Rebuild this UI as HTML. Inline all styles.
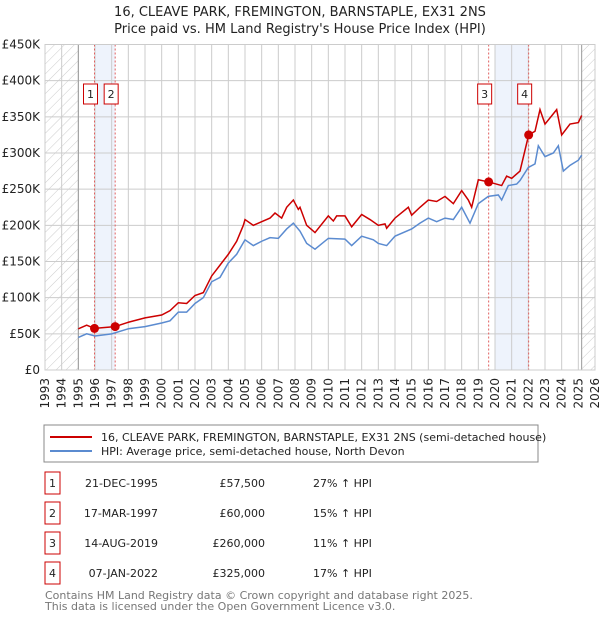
<!DOCTYPE html>
<html><head><meta charset="utf-8"><style>
body{margin:0;background:#fff;font-family:"DejaVu Sans","Liberation Sans",sans-serif;}
#wrap{position:relative;width:600px;height:620px;overflow:hidden;}
svg text{font-family:"DejaVu Sans","Liberation Sans",sans-serif;}
</style></head><body><div id="wrap">
<svg id="chart" width="600" height="620">
<defs><pattern id="hatch" width="7" height="7" patternUnits="userSpaceOnUse" patternTransform="rotate(45)"><line x1="0" y1="0" x2="0" y2="7" stroke="#ccc" stroke-width="1"/></pattern></defs>
<text x="300" y="16" text-anchor="middle" font-size="13" fill="#222">16, CLEAVE PARK, FREMINGTON, BARNSTAPLE, EX31 2NS</text>
<text x="300" y="33" text-anchor="middle" font-size="13" fill="#222">Price paid vs. HM Land Registry's House Price Index (HPI)</text>
<g id="plot"></g>
<rect x="44" y="425" width="494" height="37" fill="#fff" stroke="#888"/>
<line x1="50" y1="437" x2="92" y2="437" stroke="#cc0000" stroke-width="2"/>
<text x="101" y="441" font-size="11" fill="#222">16, CLEAVE PARK, FREMINGTON, BARNSTAPLE, EX31 2NS (semi-detached house)</text>
<line x1="50" y1="451" x2="92" y2="451" stroke="#5b8bd0" stroke-width="2"/>
<text x="101" y="455" font-size="11" fill="#222">HPI: Average price, semi-detached house, North Devon</text>
<g id="table" font-size="11" fill="#222"></g>
<text x="45" y="599" font-size="11" fill="#777">Contains HM Land Registry data © Crown copyright and database right 2025.</text>
<text x="45" y="610" font-size="11" fill="#777">This data is licensed under the Open Government Licence v3.0.</text>
</svg></div>
<script>
const hpiYears=[1995,1995.5,1996,1997,1998,1999,2000,2000.5,2001,2001.5,2002,2002.5,2003,2003.5,2004,2004.5,2005,2005.5,2006,2006.5,2007,2007.5,2007.9,2008.3,2008.7,2009.2,2010,2011,2011.4,2012,2012.7,2013,2013.5,2014,2015,2015.5,2016,2016.5,2017,2017.5,2018,2018.5,2019,2019.6,2020.2,2020.4,2020.8,2021.3,2021.5,2022,2022.4,2022.6,2023,2023.5,2023.8,2024.1,2024.5,2025,2025.2];
const hpiValues=[45,50,47,50,57,60,65,68,80,80,92,100,122,128,148,160,180,172,178,183,182,195,203,192,175,167,182,181,172,185,180,175,172,185,195,203,210,205,210,208,225,203,230,240,242,235,255,257,262,280,285,310,295,300,310,275,283,290,297];
const redYears=[1995,1995.5,1995.97,1997.2,1998,1999,2000,2000.5,2001,2001.5,2002,2002.5,2003,2003.5,2004,2004.5,2004.9,2005,2005.5,2006,2006.5,2006.8,2007.2,2007.5,2007.9,2008.2,2008.3,2008.7,2009.2,2010,2010.3,2010.5,2011,2011.4,2012,2012.5,2013,2013.4,2013.5,2014,2014.8,2015,2015.5,2016,2016.5,2017,2017.5,2018,2018.4,2018.6,2019,2019.62,2020.4,2020.7,2021,2021.5,2022.02,2022.4,2022.7,2023,2023.7,2024,2024.5,2025,2025.2];
const redValues=[57,62,57.5,60,66,72,76,82,93,92,103,107,130,145,160,178,200,208,200,205,210,217,210,225,235,222,225,200,190,213,206,213,213,198,215,208,200,202,196,210,225,214,225,235,233,240,230,248,235,225,263,260,255,268,265,275,325,330,360,340,360,325,340,342,352];
const saleYears=[1995.97,1997.21,2019.62,2022.02];
const saleValues=[57.5,60,260,325];
const saleLabels=["1","2","3","4"];
const saleDates=["21-DEC-1995","17-MAR-1997","14-AUG-2019","07-JAN-2022"];
const salePrices=["£57,500","£60,000","£260,000","£325,000"];
const saleDiffs=["27% ↑ HPI","15% ↑ HPI","11% ↑ HPI","17% ↑ HPI"];
const yTicks=[0,50,100,150,200,250,300,350,400,450];
const yTickLabels=["£0","£50K","£100K","£150K","£200K","£250K","£300K","£350K","£400K","£450K"];
const xTicks=[];for(let y=1993;y<=2026;y++)xTicks.push(y);

const NS="http://www.w3.org/2000/svg";
const X0=45,X1=595,Y0=370,Y1=44.5;
const xs=y=>X0+(y-1993)/(2026-1993)*(X1-X0);
const ys=v=>Y0-v/450*(Y0-Y1);
const plot=document.getElementById('plot');
function mk(tag,attrs,parent){const e=document.createElementNS(NS,tag);for(const k in attrs)e.setAttribute(k,attrs[k]);(parent||plot).appendChild(e);return e;}
// shading
let e;
e=mk('rect',{x:xs(1996),y:Y1,width:xs(saleYears[1])-xs(1996),height:Y0-Y1,fill:'#eef3fc'});


e=mk('rect',{x:xs(2020),y:Y1,width:xs(saleYears[3])-xs(2020),height:Y0-Y1,fill:'#eef3fc'});


e=mk('rect',{x:X0,y:Y1,width:xs(1995)-X0,height:Y0-Y1,fill:'url(#hatch)'});


e=mk('rect',{x:xs(2025.2),y:Y1,width:X1-xs(2025.2),height:Y0-Y1,fill:'url(#hatch)'});


// grid
xTicks.forEach((t,i)=>{
 e=mk('line',{x1:xs(t),x2:xs(t),y1:Y1,y2:Y0,stroke:'#ccc','stroke-width':1});
 
 
 e=mk('text',{x:0,y:0,transform:`translate(${xs(t)+4},378) rotate(-90)`,'text-anchor':'end','font-size':12,fill:'#222'});
 e.textContent=t;
 
 
});
yTicks.forEach((t,i)=>{
 e=mk('line',{x1:X0,x2:X1,y1:ys(t),y2:ys(t),stroke:'#ccc','stroke-width':1});
 
 
 e=mk('text',{x:40,y:ys(t)+4,'text-anchor':'end','font-size':12,fill:'#222'});
 e.textContent=yTickLabels[i];
 
 
});
e=mk('line',{x1:xs(1995),x2:xs(1995),y1:Y1,y2:Y0,stroke:'#999'});


e=mk('line',{x1:xs(2025.2),x2:xs(2025.2),y1:Y1,y2:Y0,stroke:'#999'});


// sale vlines & labels
saleYears.forEach((s,i)=>{
 e=mk('line',{x1:xs(s),x2:xs(s),y1:Y1,y2:Y0,stroke:'#e06060','stroke-dasharray':'2,2'});
 
 
 const bx=xs(s)-(i%2==0?14:-2)+ (i==0||i==2?0:0);
 const cx=(i==0||i==2)?xs(s)-4:xs(s)-4;
 e=mk('rect',{x:cx-7,y:84,width:14,height:20,fill:'#fff',stroke:'#cc0000'});
 
 
 e=mk('text',{x:cx,y:98,'text-anchor':'middle','font-size':11,fill:'#222'});
 e.textContent=saleLabels[i];
 
 
});
e=mk('rect',{x:X0,y:Y1,width:X1-X0,height:Y0-Y1,fill:'none',stroke:'#ccc'});


// lines
e=mk('polyline',{points:hpiYears.map((y,i)=>xs(y)+','+ys(hpiValues[i])).join(' '),fill:'none',stroke:'#5b8bd0','stroke-width':1.5});


e=mk('polyline',{points:redYears.map((y,i)=>xs(y)+','+ys(redValues[i])).join(' '),fill:'none',stroke:'#cc0000','stroke-width':1.5});


saleYears.forEach((s,i)=>{
 e=mk('circle',{cx:xs(s),cy:ys(saleValues[i]),r:4.5,fill:'#cc0000'});
 
 
});
// table
const tb=document.getElementById('table');
const rowY=[483,513,543,573];
saleLabels.forEach((l,i)=>{
 const y=rowY[i];
 e=mk('rect',{x:45,y:y-11,width:15,height:22,fill:'#fff',stroke:'#cc0000'},tb);
 
 
 e=mk('text',{x:52.5,y:y+4,'text-anchor':'middle'},tb);e.textContent=l;
 
 
 e=mk('text',{x:158,y:y+4,'text-anchor':'end'},tb);e.textContent=saleDates[i];
 
 
 e=mk('text',{x:265,y:y+4,'text-anchor':'end'},tb);e.textContent=salePrices[i];
 
 
 e=mk('text',{x:313,y:y+4},tb);e.textContent=saleDiffs[i];
 
 
});
</script></body></html>
